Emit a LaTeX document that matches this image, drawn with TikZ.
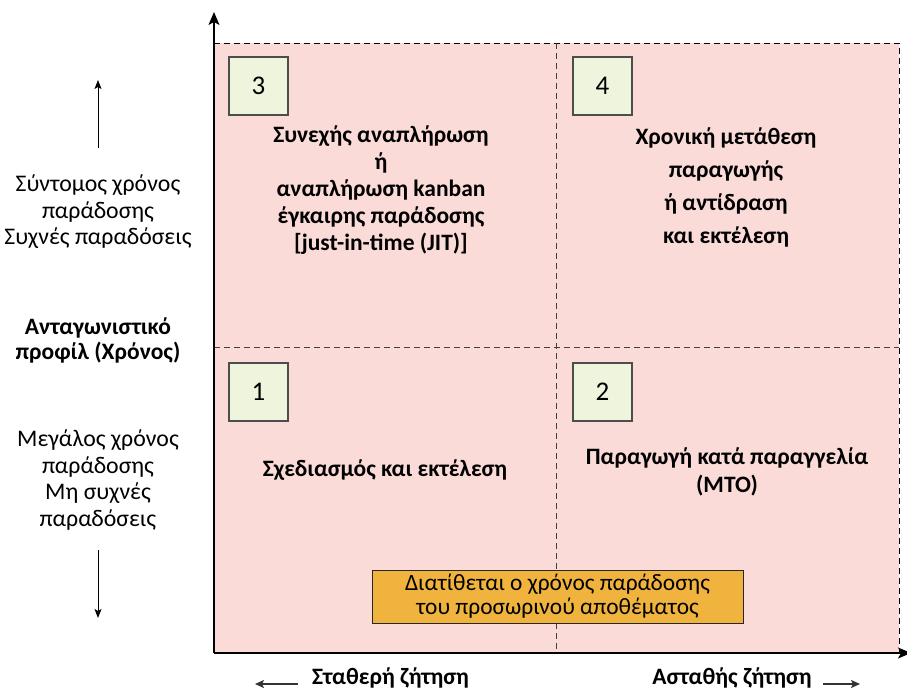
\documentclass[tikz,border=0pt]{standalone}
\usepackage{fontspec}
\setmainfont{Carlito}
\usetikzlibrary{arrows.meta}

\definecolor{quadpink}{HTML}{FADBD8}
\definecolor{numfill}{HTML}{EFF4DD}
\definecolor{numline}{HTML}{4D4D4D}
\definecolor{bufferorange}{HTML}{F0B43E}

\tikzset{
  axisline/.style={line width=1.3pt, -{Stealth[length=13pt,width=11pt,inset=3pt]}},
  frameline/.style={line width=0.9pt, dash pattern=on 6pt off 4pt},
  divider/.style={line width=1pt, draw=black!75, dash pattern=on 6pt off 4pt},
  numbox/.style={draw=numline, line width=1.2pt, fill=numfill, minimum width=59pt,
    minimum height=58pt, inner sep=0pt, font=\fontsize{27}{30}\selectfont},
  quadtext/.style={align=center, inner sep=0pt, font=\bfseries\fontsize{23.5}{27}\selectfont},
  sidetext/.style={align=center, inner sep=0pt, font=\fontsize{23.8}{26.5}\selectfont},
  sidebold/.style={align=center, inner sep=0pt, font=\bfseries\fontsize{23.5}{25}\selectfont},
  sidearrow/.style={line width=1pt, -{Stealth[length=9pt,width=7pt,inset=2pt]}},
  demandarrow/.style={line width=1.5pt, draw=black!80, -{Stealth[length=9pt,width=8pt,inset=2pt]}},
  bufferbox/.style={draw=black!85, line width=1pt, fill=bufferorange, minimum width=371pt,
    minimum height=53pt, align=center, inner sep=0pt, font=\fontsize{23.4}{24}\selectfont},
}

\begin{document}
\begin{tikzpicture}[x=1pt,y=-1pt]
\useasboundingbox (0,0) rectangle (907,692);
\fill[white] (0,0) rectangle (907,692);

% axis corner points and quadrant grid
\coordinate (origin) at (214,653);
\coordinate (ytop) at (214,12);
\coordinate (xright) at (911,653);
\coordinate (tl) at (214,43);
\coordinate (tr) at (899,43);
\coordinate (br) at (899,653);
\coordinate (midtop) at (556,43);
\coordinate (midbot) at (556,653);
\coordinate (midleft) at (214,347);
\coordinate (midright) at (899,347);

\fill[quadpink] (tl) rectangle (br);
\draw[frameline] (tl) -- (tr) -- (br);
\draw[divider] (midtop) -- (midbot);
\draw[divider] (midleft) -- (midright);

\draw[axisline] (origin) -- (ytop);
\draw[axisline] (origin) -- (xright);

% quadrant numbers
\node[numbox] (n3) at (258.5,86) {3};
\node[numbox] (n4) at (602.5,86) {4};
\node[numbox] (n1) at (258.5,392) {1};
\node[numbox] (n2) at (602.5,392) {2};

% quadrant strategies
\node[quadtext] (q3) at (381,190) {Συνεχής αναπλήρωση\\ή\\αναπλήρωση kanban\\έγκαιρης παράδοσης\\{}[just-in-time (JIT)]};
\node[quadtext, font=\bfseries\fontsize{23.5}{33}\selectfont] (q4) at (726,187) {Χρονική μετάθεση\\παραγωγής\\ή αντίδραση\\και εκτέλεση};
\node[quadtext] (q1) at (385,470) {Σχεδιασμός και εκτέλεση};
\node[quadtext, font=\bfseries\fontsize{23.5}{28}\selectfont] (q2) at (727,472) {Παραγωγή κατά παραγγελία\\(MTO)};

% buffer lead time
\node[bufferbox] (buffer) at (557.5,596.5) {Διατίθεται ο χρόνος παράδοσης\\του προσωρινού αποθέματος};

% vertical scale labels
\coordinate (upfrom) at (98,148);
\coordinate (upto) at (98,80);
\draw[sidearrow] (upfrom) -- (upto);
\node[sidetext] (short) at (98,212) {Σύντομος χρόνος\\παράδοσης\\Συχνές παραδόσεις};
\node[sidebold] (profile) at (98,340) {Ανταγωνιστικό\\προφίλ (Χρόνος)};
\node[sidetext] (long) at (98,480) {Μεγάλος χρόνος\\παράδοσης\\Μη συχνές\\παραδόσεις};
\coordinate (downfrom) at (98,550);
\coordinate (downto) at (98,618);
\draw[sidearrow] (downfrom) -- (downto);

% demand labels
\node[sidebold, anchor=base] (stable) at (390.5,684) {Σταθερή ζήτηση};
\node[sidebold, anchor=base] (unstable) at (732,684) {Ασταθής ζήτηση};
\coordinate (lfrom) at (298,684);
\coordinate (lto) at (255,684);
\coordinate (rfrom) at (823,684);
\coordinate (rto) at (860,684);
\draw[demandarrow] (lfrom) -- (lto);
\draw[demandarrow] (rfrom) -- (rto);
\end{tikzpicture}
\end{document}
